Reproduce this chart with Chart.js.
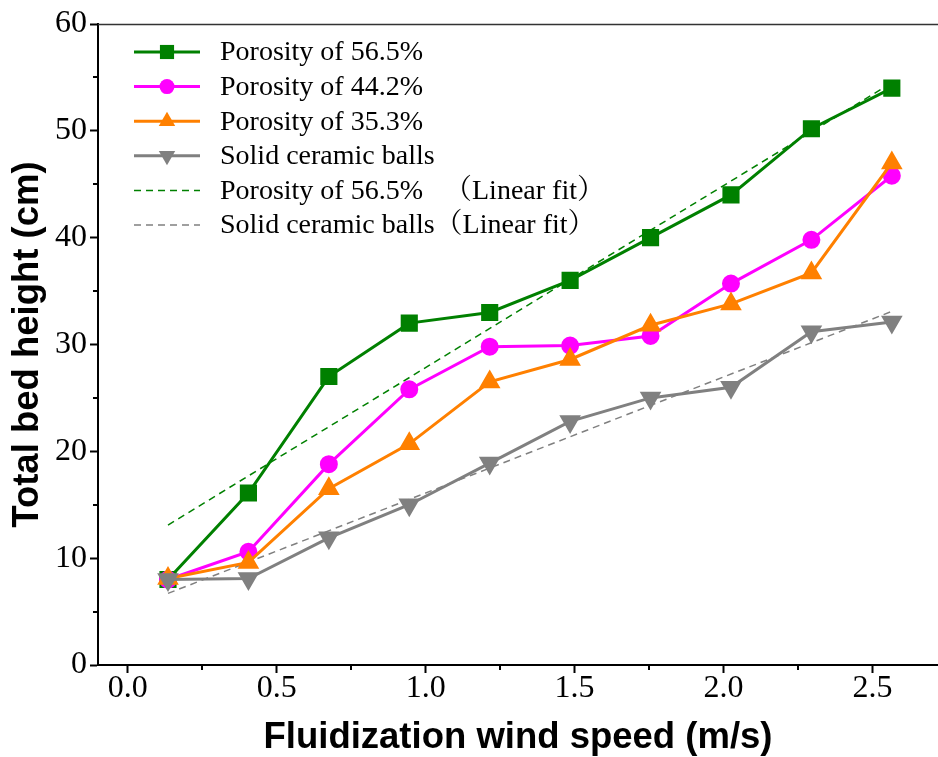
<!DOCTYPE html>
<html>
<head>
<meta charset="utf-8">
<script src="https://cdn.jsdelivr.net/npm/chart.js@4.4.1/dist/chart.umd.min.js"></script>
<style>
  html, body { margin: 0; padding: 0; background: #fff; }
  #wrap { width: 938px; height: 757px; }
</style>
</head>
<body>
<div id="wrap"><canvas id="bed-chart" width="938" height="757"></canvas></div>
<script>
// wind speed (m/s) for every measured point
const windSpeed = [0.135, 0.405, 0.675, 0.945, 1.215, 1.485, 1.755, 2.025, 2.295, 2.565];

// total bed height (cm)
const height565 = [8.0, 16.1, 27.0, 32.0, 33.0, 36.0, 40.0, 44.0, 50.2, 54.0];
const height442 = [8.0, 10.6, 18.8, 25.8, 29.8, 29.9, 30.8, 35.7, 39.8, 45.8];
const height353 = [8.1, 9.6, 16.5, 20.7, 26.5, 28.6, 31.8, 33.8, 36.7, 47.0];
const heightSolid = [8.0, 8.1, 11.9, 15.0, 18.9, 22.8, 25.0, 26.0, 31.2, 32.1];

// linear fit end points
const fitSpeed = [0.135, 2.565];
const fit565 = [13.1, 54.5];
const fitSolid = [6.7, 33.1];

const xTickStep = 0.5;
const yTickStep = 10;

const serif = '"Times New Roman", "Liberation Serif", "Noto Serif CJK SC", "Noto Sans CJK SC", serif';
const sans = 'Arial, "Liberation Sans", sans-serif';

function toPoints(xs, ys) {
  return xs.map((x, i) => ({ x: x, y: ys[i] }));
}

const datasets = [
  {
    label: "Porosity of 56.5%",
    data: toPoints(windSpeed, height565),
    borderColor: "#008000",
    backgroundColor: "#008000",
    borderWidth: 3,
    pointStyle: "rect",
    pointRadius: 10,
    pointRotation: 0,
    order: 4,
  },
  {
    label: "Porosity of 44.2%",
    data: toPoints(windSpeed, height442),
    borderColor: "#ff00ff",
    backgroundColor: "#ff00ff",
    borderWidth: 3,
    pointStyle: "circle",
    pointRadius: 7.5,
    pointRotation: 0,
    order: 3,
  },
  {
    label: "Porosity of 35.3%",
    data: toPoints(windSpeed, height353),
    borderColor: "#ff8000",
    backgroundColor: "#ff8000",
    borderWidth: 3,
    pointStyle: "triangle",
    pointRadius: 9.5,
    pointRotation: 0,
    order: 2,
  },
  {
    label: "Solid ceramic balls",
    data: toPoints(windSpeed, heightSolid),
    borderColor: "#808080",
    backgroundColor: "#808080",
    borderWidth: 3,
    pointStyle: "triangle",
    pointRadius: 9.5,
    pointRotation: 180,
    order: 1,
  },
  {
    label: "Porosity of 56.5%   \uFF08Linear fit\uFF09",
    data: toPoints(fitSpeed, fit565),
    borderColor: "#008000",
    borderWidth: 1.5,
    borderDash: [7, 5],
    pointRadius: 0,
    order: 6,
  },
  {
    label: "Solid ceramic balls\uFF08Linear fit\uFF09",
    data: toPoints(fitSpeed, fitSolid),
    borderColor: "#808080",
    borderWidth: 1.5,
    borderDash: [7, 5],
    pointRadius: 0,
    order: 5,
  },
];

function drawMarker(ctx, ds, x, y) {
  if (!ds.pointRadius) return;
  const opts = {
    pointStyle: ds.pointStyle,
    radius: ds.pointRadius,
    rotation: ds.pointRotation || 0,
    borderWidth: 0,
  };
  ctx.save();
  ctx.fillStyle = ds.backgroundColor;
  ctx.strokeStyle = ds.backgroundColor;
  Chart.helpers.drawPoint(ctx, opts, x, y);
  ctx.restore();
}

// legend inside the plot, plus minor ticks and top frame line
const extrasPlugin = {
  id: "extras",
  afterDraw(chart) {
    const ctx = chart.ctx;
    const area = chart.chartArea;
    const xs = chart.scales.x;
    const ys = chart.scales.y;

    ctx.save();
    ctx.strokeStyle = "#000";
    ctx.lineWidth = 2;
    // minor ticks
    ctx.beginPath();
    for (let v = xTickStep / 2; v <= xs.max; v += xTickStep) {
      const px = Math.round(xs.getPixelForValue(v));
      ctx.moveTo(px, area.bottom);
      ctx.lineTo(px, area.bottom + 5);
    }
    for (let v = yTickStep / 2; v <= ys.max; v += yTickStep) {
      const py = Math.round(ys.getPixelForValue(v));
      ctx.moveTo(area.left, py);
      ctx.lineTo(area.left - 5, py);
    }
    ctx.stroke();

    // top frame line
    ctx.lineWidth = 1.5;
    ctx.strokeStyle = "#333";
    ctx.beginPath();
    ctx.moveTo(area.left, area.top + 0.5);
    ctx.lineTo(area.right, area.top + 0.5);
    ctx.stroke();

    // legend
    const lineX0 = 134, lineX1 = 200, textX = 220;
    let rowY = 52;
    ctx.font = "28px " + serif;
    ctx.textBaseline = "middle";
    ctx.textAlign = "left";
    datasets.forEach((ds) => {
      ctx.save();
      ctx.strokeStyle = ds.borderColor;
      ctx.lineWidth = ds.borderWidth;
      ctx.setLineDash(ds.borderDash || []);
      ctx.beginPath();
      ctx.moveTo(lineX0, rowY);
      ctx.lineTo(lineX1, rowY);
      ctx.stroke();
      ctx.restore();
      drawMarker(ctx, ds, (lineX0 + lineX1) / 2, rowY);
      ctx.fillStyle = "#000";
      ctx.fillText(ds.label, textX, rowY + 1);
      rowY += 34.6;
    });
    ctx.restore();
  },
};

const ctx = document.getElementById("bed-chart").getContext("2d");
new Chart(ctx, {
  type: "line",
  data: { datasets: datasets },
  options: {
    responsive: false,
    animation: false,
    devicePixelRatio: 1,
    layout: { autoPadding: false, padding: { top: 24, right: 0, left: 0, bottom: 0 } },
    plugins: {
      legend: { display: false },
      tooltip: { enabled: false },
    },
    scales: {
      x: {
        type: "linear",
        min: -0.1,
        max: 2.72,
        afterFit: (scale) => {
          scale.height = 92;
          scale.paddingLeft = 0;
          scale.paddingRight = 0;
        },
        ticks: {
          stepSize: xTickStep,
          includeBounds: false,
          color: "#000",
          font: { family: serif, size: 32, lineHeight: 1 },
          padding: 0,
          maxRotation: 0,
          callback: (v) => Number(v).toFixed(1),
        },
        grid: {
          drawOnChartArea: false,
          drawTicks: true,
          tickLength: 8,
          tickWidth: 2,
          tickColor: "#000",
        },
        border: { display: true, color: "#000", width: 2 },
        title: {
          display: true,
          text: "Fluidization wind speed (m/s)",
          color: "#000",
          font: { family: sans, size: 36.5, weight: "bold", lineHeight: 1 },
          padding: { top: 0, bottom: 1 },
        },
      },
      y: {
        min: 0,
        max: 60,
        afterFit: (scale) => {
          scale.width = 98;
          scale.paddingTop = 0;
          scale.paddingBottom = 0;
        },
        ticks: {
          stepSize: yTickStep,
          color: "#000",
          font: { family: serif, size: 32, lineHeight: 1 },
          padding: 3,
        },
        grid: {
          drawOnChartArea: false,
          drawTicks: true,
          tickLength: 8,
          tickWidth: 2,
          tickColor: "#000",
        },
        border: { display: true, color: "#000", width: 2 },
        title: {
          display: true,
          text: "Total bed height (cm)",
          color: "#000",
          font: { family: sans, size: 36.5, weight: "bold", lineHeight: 1 },
          padding: { top: 10, bottom: 0 },
        },
      },
    },
  },
  plugins: [extrasPlugin],
});
</script>
</body>
</html>
